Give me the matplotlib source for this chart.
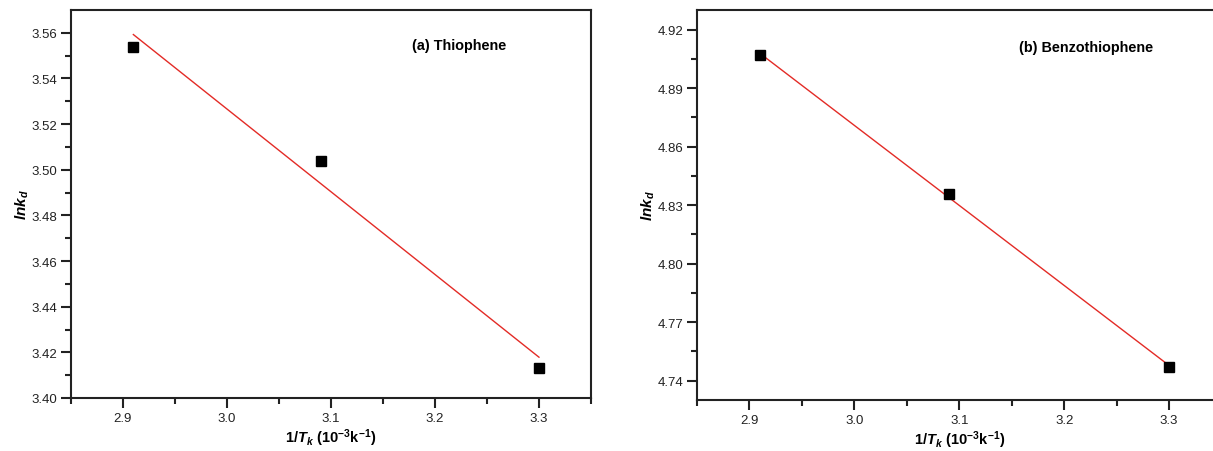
import numpy as np
import matplotlib
matplotlib.use('Agg')
from matplotlib import pyplot as plt
from matplotlib.ticker import MultipleLocator, FormatStrFormatter

plt.rcParams['font.family'] = ['Liberation Sans', 'DejaVu Sans']
plt.rcParams['mathtext.fontset'] = 'custom'
plt.rcParams['mathtext.rm'] = 'Liberation Sans:bold'
plt.rcParams['mathtext.bf'] = 'Liberation Sans:bold'
plt.rcParams['mathtext.it'] = 'Liberation Sans:italic:bold'

# data
inv_t = [2.91, 3.09, 3.30]
lnk_thiophene = [3.5539, 3.5039, 3.4133]
lnk_benzothiophene = [4.9067, 4.8359, 4.7468]

panel_titles = ['(a) Thiophene', '(b) Benzothiophene']
title_pos = [(0.655, 0.91), (0.614, 0.905)]
y_limits = [(3.40, 3.57), (4.73, 4.93)]
y_major = [0.02, 0.03]
y_major_start = [3.40, 4.74]

fig = plt.figure(figsize=(12.13, 4.52), dpi=100)
ax_a = fig.add_axes([0.0585, 0.1173, 0.4287, 0.8584])
ax_b = fig.add_axes([0.5746, 0.1128, 0.4324, 0.8628])

for i, (ax, y) in enumerate(zip([ax_a, ax_b], [lnk_thiophene, lnk_benzothiophene])):
    # linear fit of the three points
    slope, icpt = np.polyfit(inv_t, y, 1)
    xf = np.array([inv_t[0], inv_t[-1]])
    ax.plot(xf, slope * xf + icpt, '-', color='#e32b26', lw=1.0, zorder=2)
    ax.plot(inv_t, y, 's', color='black', ms=7.2, zorder=3)

    ax.set_xlim(2.85, 3.35)
    ax.set_ylim(*y_limits[i])
    ax.xaxis.set_major_locator(MultipleLocator(0.1))
    ax.xaxis.set_minor_locator(MultipleLocator(0.05))
    ax.xaxis.set_major_formatter(FormatStrFormatter('%.1f'))
    start = y_major_start[i]
    ticks = np.arange(start, y_limits[i][1] + 1e-9, y_major[i])
    ax.set_yticks(ticks)
    ax.set_yticks(np.arange(start - y_major[i] / 2, y_limits[i][1], y_major[i] / 2)[1:], minor=True)
    ax.yaxis.set_major_formatter(FormatStrFormatter('%.2f'))

    for s in ax.spines.values():
        s.set_linewidth(1.5)
        s.set_color('#222222')
    ax.tick_params(which='major', direction='out', length=7, width=1.5,
                   labelsize=9.5, colors='#222222', pad=3)
    ax.tick_params(which='minor', direction='out', length=4, width=1.5, colors='#222222')
    ax.tick_params(top=False, right=False, which='both')

    ax.set_xlabel(r'$\mathit{1/T_k}\ \mathrm{(10^{-3}k^{-1})}$', fontsize=10.5, labelpad=2)
    ax.set_ylabel(r'$\mathit{lnk_d}$', fontsize=11, labelpad=0)
    ax.text(title_pos[i][0], title_pos[i][1], panel_titles[i], transform=ax.transAxes,
            fontsize=10.4, fontweight='bold', va='center', ha='left')

fig.savefig('out.png', dpi=100, facecolor='white')
